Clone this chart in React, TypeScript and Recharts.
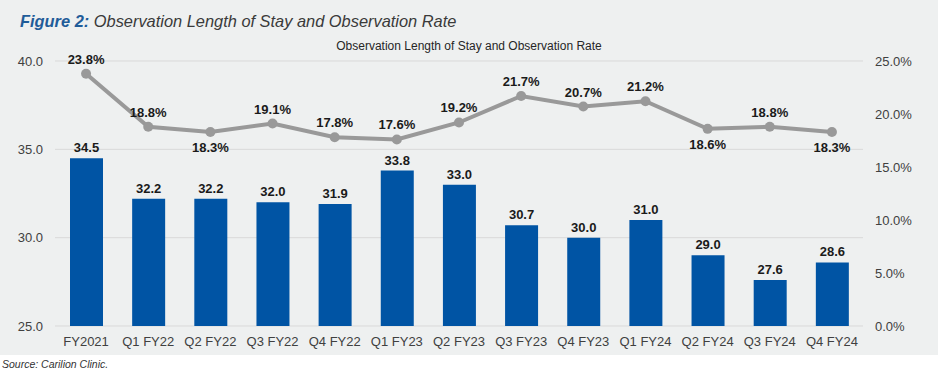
import { ComposedChart, Bar, Line, XAxis, YAxis, CartesianGrid, LabelList } from "recharts";

const categories = [
  "FY2021", "Q1 FY22", "Q2 FY22", "Q3 FY22", "Q4 FY22", "Q1 FY23", "Q2 FY23",
  "Q3 FY23", "Q4 FY23", "Q1 FY24", "Q2 FY24", "Q3 FY24", "Q4 FY24",
];
const lengthOfStay = [34.5, 32.2, 32.2, 32.0, 31.9, 33.8, 33.0, 30.7, 30.0, 31.0, 29.0, 27.6, 28.6];
const observationRate = [23.8, 18.8, 18.3, 19.1, 17.8, 17.6, 19.2, 21.7, 20.7, 21.2, 18.6, 18.8, 18.3];
const leftTicks = [25, 30, 35, 40];
const rightTicks = [0, 5, 10, 15, 20, 25];
// rate labels that sit under the point instead of over it
const labelsBelow = [2, 10, 12];

const data = categories.map((name, i) => ({
  name,
  los: lengthOfStay[i],
  rate: observationRate[i],
}));

const FONT = "'Liberation Sans', Arial, sans-serif";

const RateLabel = (props: any) => {
  const { x, y, value, index } = props;
  const below = labelsBelow.includes(index);
  return (
    <text
      x={x}
      y={below ? y + 20 : y - 10}
      textAnchor="middle"
      fontFamily={FONT}
      fontSize={13}
      fontWeight="bold"
      fill="#1a1a1a"
    >
      {`${Number(value).toFixed(1)}%`}
    </text>
  );
};

export default function App() {
  return (
    <div
      style={{
        position: "absolute",
        left: 0,
        top: 0,
        width: 938,
        height: 372,
        background: "#ffffff",
        fontFamily: FONT,
      }}
    >
      <div style={{ position: "absolute", left: 0, top: 0, width: 938, height: 355, background: "#eef0f0" }} />
      <div
        style={{
          position: "absolute",
          left: 20,
          top: 12,
          fontSize: 16.4,
          fontStyle: "italic",
          color: "#3a3a3a",
          whiteSpace: "nowrap",
        }}
      >
        <span style={{ fontWeight: "bold", color: "#1f5c99" }}>Figure 2:</span> Observation Length of Stay and
        Observation Rate
      </div>
      <div
        style={{
          position: "absolute",
          left: 0,
          top: 39,
          width: 938,
          textAlign: "center",
          fontSize: 12,
          color: "#262626",
        }}
      >
        Observation Length of Stay and Observation Rate
      </div>
      <div style={{ position: "absolute", left: 2, top: 358, fontSize: 10.5, fontStyle: "italic", color: "#333" }}>
        Source: Carilion Clinic.
      </div>
      <div style={{ position: "absolute", left: 0, top: 0 }}>
        <ComposedChart width={938} height={355} data={data} margin={{ top: 61, right: 5, bottom: 0, left: 0 }}>
          <CartesianGrid yAxisId="left" vertical={false} stroke="#d9d9d9" />
          <XAxis
            dataKey="name"
            axisLine={false}
            tickLine={false}
            height={29}
            tickMargin={5}
            interval={0}
            tick={{ fontSize: 13, fill: "#404040", fontFamily: FONT }}
          />
          <YAxis
            yAxisId="left"
            width={55}
            domain={[25, 40]}
            ticks={leftTicks}
            axisLine={false}
            tickLine={false}
            tickMargin={6}
            tickFormatter={(v: number) => v.toFixed(1)}
            tick={{ fontSize: 13, fill: "#404040", fontFamily: FONT }}
          />
          <YAxis
            yAxisId="right"
            orientation="right"
            width={70}
            domain={[0, 25]}
            ticks={rightTicks}
            axisLine={false}
            tickLine={false}
            tickMargin={6}
            tickFormatter={(v: number) => `${v.toFixed(1)}%`}
            tick={{ fontSize: 13, fill: "#404040", fontFamily: FONT, textAnchor: "start" }}
          />
          <Bar yAxisId="left" dataKey="los" fill="#0054a4" barSize={33} isAnimationActive={false}>
            <LabelList
              dataKey="los"
              position="top"
              offset={6}
              formatter={(v: any) => Number(v).toFixed(1)}
              style={{ fontSize: 13, fontWeight: "bold", fill: "#1a1a1a", fontFamily: FONT }}
            />
          </Bar>
          <Line
            yAxisId="right"
            dataKey="rate"
            stroke="#999999"
            strokeWidth={4}
            dot={{ r: 5, fill: "#999999", stroke: "#999999", strokeWidth: 0 }}
            isAnimationActive={false}
          >
            <LabelList dataKey="rate" content={<RateLabel />} />
          </Line>
        </ComposedChart>
      </div>
    </div>
  );
}
